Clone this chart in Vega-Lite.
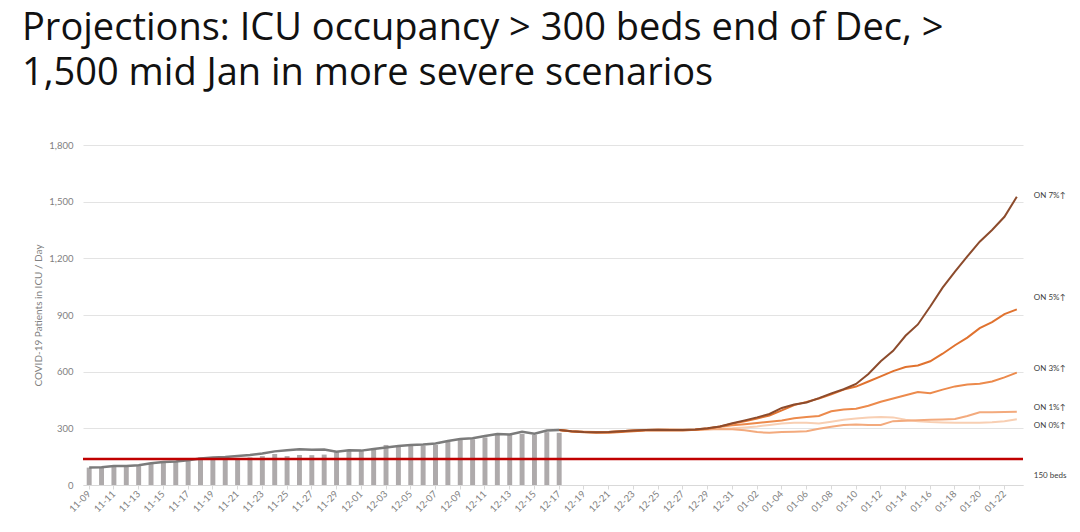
{
  "$schema": "https://vega.github.io/schema/vega-lite/v6.json",
  "width": 940,
  "height": 340,
  "autosize": {"type": "none"},
  "padding": {"left": 83, "top": 145, "right": 57, "bottom": 47},
  "background": "white",
  "config": {"view": {"stroke": null}, "font": "Lato"},
  "title": {
    "text": ["Projections: ICU occupancy > 300 beds end of Dec, >", "1,500 mid Jan in more severe scenarios"],
    "anchor": "start",
    "frame": "group",
    "dx": -61,
    "fontSize": 38,
    "font": "Open Sans",
    "fontWeight": "normal",
    "color": "#111111",
    "lineHeight": 45,
    "baseline": "top",
    "offset": 47
  },
  "datasets": {
    "bars": [
      {"d": "11-09", "v": 92}, {"d": "11-10", "v": 92}, {"d": "11-11", "v": 97}, {"d": "11-12", "v": 97},
      {"d": "11-13", "v": 100}, {"d": "11-14", "v": 115}, {"d": "11-15", "v": 118}, {"d": "11-16", "v": 123},
      {"d": "11-17", "v": 127}, {"d": "11-18", "v": 146}, {"d": "11-19", "v": 141}, {"d": "11-20", "v": 141},
      {"d": "11-21", "v": 141}, {"d": "11-22", "v": 146}, {"d": "11-23", "v": 153}, {"d": "11-24", "v": 164},
      {"d": "11-25", "v": 153}, {"d": "11-26", "v": 159}, {"d": "11-27", "v": 158}, {"d": "11-28", "v": 161},
      {"d": "11-29", "v": 174}, {"d": "11-30", "v": 186}, {"d": "12-01", "v": 180}, {"d": "12-02", "v": 196},
      {"d": "12-03", "v": 212}, {"d": "12-04", "v": 203}, {"d": "12-05", "v": 208}, {"d": "12-06", "v": 208},
      {"d": "12-07", "v": 212}, {"d": "12-08", "v": 229}, {"d": "12-09", "v": 238}, {"d": "12-10", "v": 242},
      {"d": "12-11", "v": 252}, {"d": "12-12", "v": 268}, {"d": "12-13", "v": 265}, {"d": "12-14", "v": 270},
      {"d": "12-15", "v": 266}, {"d": "12-16", "v": 280}, {"d": "12-17", "v": 276}
    ],
    "actual": [
      {"d": "11-09", "v": 92}, {"d": "11-10", "v": 94}, {"d": "11-11", "v": 100}, {"d": "11-12", "v": 101},
      {"d": "11-13", "v": 104}, {"d": "11-14", "v": 115}, {"d": "11-15", "v": 122}, {"d": "11-16", "v": 125},
      {"d": "11-17", "v": 131}, {"d": "11-18", "v": 140}, {"d": "11-19", "v": 146}, {"d": "11-20", "v": 148},
      {"d": "11-21", "v": 153}, {"d": "11-22", "v": 159}, {"d": "11-23", "v": 167}, {"d": "11-24", "v": 178},
      {"d": "11-25", "v": 184}, {"d": "11-26", "v": 189}, {"d": "11-27", "v": 186}, {"d": "11-28", "v": 188},
      {"d": "11-29", "v": 176}, {"d": "11-30", "v": 184}, {"d": "12-01", "v": 182}, {"d": "12-02", "v": 190},
      {"d": "12-03", "v": 198}, {"d": "12-04", "v": 206}, {"d": "12-05", "v": 212}, {"d": "12-06", "v": 215},
      {"d": "12-07", "v": 220}, {"d": "12-08", "v": 233}, {"d": "12-09", "v": 243}, {"d": "12-10", "v": 247},
      {"d": "12-11", "v": 259}, {"d": "12-12", "v": 270}, {"d": "12-13", "v": 268}, {"d": "12-14", "v": 282},
      {"d": "12-15", "v": 272}, {"d": "12-16", "v": 288}, {"d": "12-17", "v": 291}
    ],
    "proj": [
      {"d": "12-17", "ON 0%": 291, "ON 1%": 291, "ON 3%": 291, "ON 5%": 291, "ON 7%": 291},
      {"d": "12-18", "ON 0%": 285, "ON 1%": 284, "ON 3%": 285, "ON 5%": 283, "ON 7%": 285},
      {"d": "12-19", "ON 0%": 281, "ON 1%": 280, "ON 3%": 282, "ON 5%": 279, "ON 7%": 281},
      {"d": "12-20", "ON 0%": 280, "ON 1%": 279, "ON 3%": 280, "ON 5%": 277, "ON 7%": 279},
      {"d": "12-21", "ON 0%": 281, "ON 1%": 280, "ON 3%": 280, "ON 5%": 277, "ON 7%": 280},
      {"d": "12-22", "ON 0%": 285, "ON 1%": 284, "ON 3%": 284, "ON 5%": 281, "ON 7%": 284},
      {"d": "12-23", "ON 0%": 289, "ON 1%": 288, "ON 3%": 288, "ON 5%": 285, "ON 7%": 288},
      {"d": "12-24", "ON 0%": 292, "ON 1%": 291, "ON 3%": 291, "ON 5%": 288, "ON 7%": 291},
      {"d": "12-25", "ON 0%": 293, "ON 1%": 293, "ON 3%": 292, "ON 5%": 289, "ON 7%": 292},
      {"d": "12-26", "ON 0%": 294, "ON 1%": 294, "ON 3%": 291, "ON 5%": 288, "ON 7%": 291},
      {"d": "12-27", "ON 0%": 292, "ON 1%": 291, "ON 3%": 292, "ON 5%": 289, "ON 7%": 291},
      {"d": "12-28", "ON 0%": 293, "ON 1%": 291, "ON 3%": 294, "ON 5%": 292, "ON 7%": 294},
      {"d": "12-29", "ON 0%": 296, "ON 1%": 294, "ON 3%": 300, "ON 5%": 298, "ON 7%": 300},
      {"d": "12-30", "ON 0%": 298, "ON 1%": 296, "ON 3%": 308, "ON 5%": 310, "ON 7%": 310},
      {"d": "12-31", "ON 0%": 300, "ON 1%": 295, "ON 3%": 316, "ON 5%": 325, "ON 7%": 327},
      {"d": "01-01", "ON 0%": 305, "ON 1%": 290, "ON 3%": 322, "ON 5%": 338, "ON 7%": 342},
      {"d": "01-02", "ON 0%": 310, "ON 1%": 280, "ON 3%": 328, "ON 5%": 352, "ON 7%": 358},
      {"d": "01-03", "ON 0%": 318, "ON 1%": 276, "ON 3%": 335, "ON 5%": 368, "ON 7%": 376},
      {"d": "01-04", "ON 0%": 325, "ON 1%": 280, "ON 3%": 342, "ON 5%": 395, "ON 7%": 408},
      {"d": "01-05", "ON 0%": 330, "ON 1%": 282, "ON 3%": 353, "ON 5%": 423, "ON 7%": 426},
      {"d": "01-06", "ON 0%": 330, "ON 1%": 285, "ON 3%": 360, "ON 5%": 440, "ON 7%": 437},
      {"d": "01-07", "ON 0%": 326, "ON 1%": 298, "ON 3%": 365, "ON 5%": 458, "ON 7%": 460},
      {"d": "01-08", "ON 0%": 335, "ON 1%": 308, "ON 3%": 390, "ON 5%": 480, "ON 7%": 485},
      {"d": "01-09", "ON 0%": 345, "ON 1%": 318, "ON 3%": 400, "ON 5%": 505, "ON 7%": 507},
      {"d": "01-10", "ON 0%": 352, "ON 1%": 320, "ON 3%": 404, "ON 5%": 521, "ON 7%": 535},
      {"d": "01-11", "ON 0%": 357, "ON 1%": 318, "ON 3%": 420, "ON 5%": 548, "ON 7%": 588},
      {"d": "01-12", "ON 0%": 360, "ON 1%": 318, "ON 3%": 441, "ON 5%": 575, "ON 7%": 655},
      {"d": "01-13", "ON 0%": 358, "ON 1%": 338, "ON 3%": 458, "ON 5%": 603, "ON 7%": 710},
      {"d": "01-14", "ON 0%": 345, "ON 1%": 340, "ON 3%": 475, "ON 5%": 625, "ON 7%": 790},
      {"d": "01-15", "ON 0%": 337, "ON 1%": 343, "ON 3%": 492, "ON 5%": 633, "ON 7%": 850},
      {"d": "01-16", "ON 0%": 333, "ON 1%": 345, "ON 3%": 486, "ON 5%": 655, "ON 7%": 945},
      {"d": "01-17", "ON 0%": 331, "ON 1%": 347, "ON 3%": 505, "ON 5%": 695, "ON 7%": 1045},
      {"d": "01-18", "ON 0%": 330, "ON 1%": 350, "ON 3%": 522, "ON 5%": 740, "ON 7%": 1130},
      {"d": "01-19", "ON 0%": 330, "ON 1%": 365, "ON 3%": 532, "ON 5%": 780, "ON 7%": 1210},
      {"d": "01-20", "ON 0%": 330, "ON 1%": 385, "ON 3%": 536, "ON 5%": 830, "ON 7%": 1288},
      {"d": "01-21", "ON 0%": 332, "ON 1%": 385, "ON 3%": 548, "ON 5%": 862, "ON 7%": 1350},
      {"d": "01-22", "ON 0%": 338, "ON 1%": 386, "ON 3%": 570, "ON 5%": 905, "ON 7%": 1420},
      {"d": "01-23", "ON 0%": 348, "ON 1%": 388, "ON 3%": 595, "ON 5%": 930, "ON 7%": 1526}
    ],
    "threshold": [{"v": 137}],
    "labels": [
      {"d": "01-23", "t": "ON 7%↑", "v": 1532},
      {"d": "01-23", "t": "ON 5%↑", "v": 992},
      {"d": "01-23", "t": "ON 3%↑", "v": 614},
      {"d": "01-23", "t": "ON 1%↑", "v": 409},
      {"d": "01-23", "t": "ON 0%↑", "v": 312},
      {"d": "01-23", "t": "150 beds", "v": 48}
    ]
  },
  "layer": [
    {
      "data": {"name": "bars"},
      "mark": {"type": "bar", "width": {"band": 0.4}, "color": "#aeaaab"},
      "encoding": {
        "x": {
          "field": "d", "type": "ordinal",
          "scale": {
            "domain": ["11-09","11-10","11-11","11-12","11-13","11-14","11-15","11-16","11-17","11-18","11-19","11-20","11-21","11-22","11-23","11-24","11-25","11-26","11-27","11-28","11-29","11-30",
                       "12-01","12-02","12-03","12-04","12-05","12-06","12-07","12-08","12-09","12-10","12-11","12-12","12-13","12-14","12-15","12-16","12-17","12-18","12-19","12-20","12-21","12-22","12-23","12-24","12-25","12-26","12-27","12-28","12-29","12-30","12-31",
                       "01-01","01-02","01-03","01-04","01-05","01-06","01-07","01-08","01-09","01-10","01-11","01-12","01-13","01-14","01-15","01-16","01-17","01-18","01-19","01-20","01-21","01-22","01-23"],
            "paddingInner": 0, "paddingOuter": 0
          },
          "axis": {
            "values": ["11-09","11-11","11-13","11-15","11-17","11-19","11-21","11-23","11-25","11-27","11-29","12-01","12-03","12-05","12-07","12-09","12-11","12-13","12-15","12-17","12-19","12-21","12-23","12-25","12-27","12-29","12-31","01-02","01-04","01-06","01-08","01-10","01-12","01-14","01-16","01-18","01-20","01-22"],
            "title": null, "labelAngle": -45, "labelAlign": "right", "labelBaseline": "middle",
            "labelFontSize": 9.5, "labelColor": "#7f7f7f", "labelPadding": 3,
            "domainColor": "#d9d9d9", "tickColor": "#d9d9d9", "tickSize": 4, "grid": false
          }
        },
        "y": {
          "field": "v", "type": "quantitative",
          "scale": {"domain": [0, 1800], "nice": false},
          "axis": {
            "values": [0, 300, 600, 900, 1200, 1500, 1800], "format": ",.0f",
            "title": "COVID-19 Patients in ICU / Day", "titleFontSize": 10, "titleFontWeight": "normal",
            "titleColor": "#7f7f7f", "titlePadding": 5,
            "labelColor": "#7f7f7f", "labelFontSize": 9.5, "labelPadding": 10,
            "domain": false, "ticks": false, "gridColor": "#e3e3e3", "gridWidth": 1
          }
        }
      }
    },
    {
      "data": {"name": "actual"},
      "mark": {"type": "line", "color": "#7b7b7b", "strokeWidth": 2.5},
      "encoding": {
        "x": {"field": "d", "type": "ordinal"},
        "y": {"field": "v", "type": "quantitative"}
      }
    },
    {
      "data": {"name": "proj"},
      "transform": [{"fold": ["ON 0%", "ON 1%", "ON 3%", "ON 5%", "ON 7%"], "as": ["s", "v"]}],
      "mark": {"type": "line", "strokeWidth": 2},
      "encoding": {
        "x": {"field": "d", "type": "ordinal"},
        "y": {"field": "v", "type": "quantitative"},
        "color": {
          "field": "s", "type": "nominal",
          "scale": {"domain": ["ON 0%", "ON 1%", "ON 3%", "ON 5%", "ON 7%"], "range": ["#f8cfb3", "#f3aa7d", "#ec8a4c", "#e0722f", "#8c4b2c"]},
          "legend": null
        }
      }
    },
    {
      "data": {"name": "threshold"},
      "mark": {"type": "rule", "color": "#c00000", "strokeWidth": 2.5},
      "encoding": {"y": {"field": "v", "type": "quantitative"}}
    },
    {
      "data": {"name": "labels"},
      "mark": {"type": "text", "align": "left", "baseline": "middle", "dx": 17, "fontSize": 8, "color": "#404040"},
      "encoding": {
        "x": {"field": "d", "type": "ordinal"},
        "y": {"field": "v", "type": "quantitative"},
        "text": {"field": "t"}
      }
    }
  ]
}
